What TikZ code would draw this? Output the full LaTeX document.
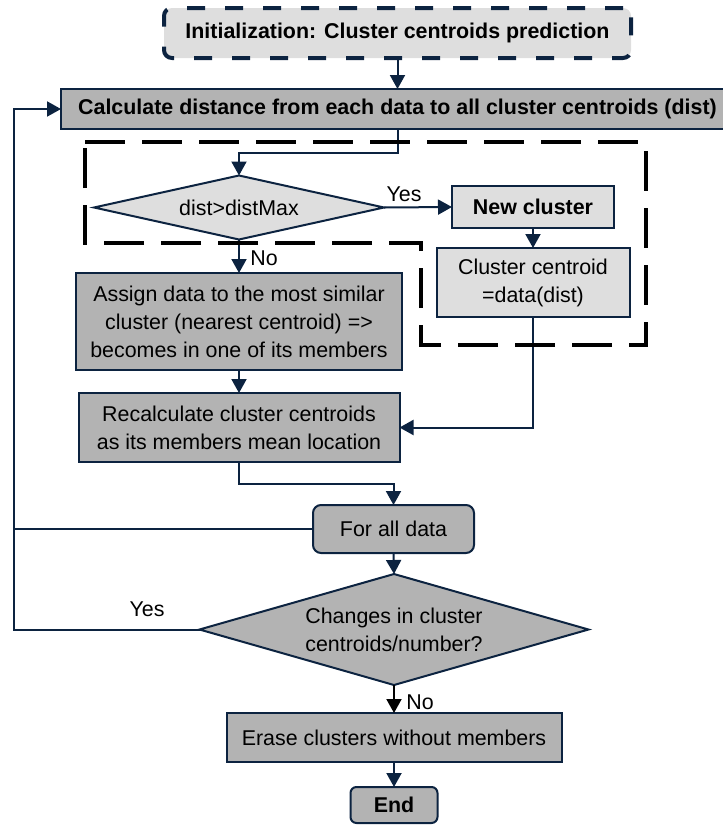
\documentclass[tikz,border=0pt]{standalone}
\usepackage{fontspec}
\setmainfont{Liberation Sans}
\usetikzlibrary{shapes.geometric,arrows.meta}
\definecolor{navy}{HTML}{0C2340}
\definecolor{lightfill}{HTML}{DEDEDE}
\definecolor{darkfill}{HTML}{B3B3B3}
\begin{document}
\begin{tikzpicture}[x=1pt,y=-1pt,
  txt/.style={font=\fontsize{21.4}{28}\selectfont},
  btxt/.style={font=\fontsize{21.4}{28}\selectfont\bfseries},
  box/.style={draw=navy, line width=2pt, inner sep=0pt, outer sep=0pt, align=center, txt},
  lightbox/.style={box, fill=lightfill},
  darkbox/.style={box, fill=darkfill},
  decision/.style={box, diamond},
  conn/.style={draw=navy, line width=2pt, -{Triangle[length=14pt,width=15pt]}},
  plainline/.style={draw=navy, line width=2pt},
  lbl/.style={txt, inner sep=0pt}]
\useasboundingbox (0,0) rectangle (723,825);

\node[lightbox, btxt, rounded corners=8pt, line width=4pt, dash pattern=on 18pt off 20pt,
      minimum width=467pt, minimum height=50pt] (init) at (397.5,33) {Initialization: Cluster centroids prediction};
\node[darkbox, btxt, minimum width=673pt, minimum height=40pt] (calc) at (397.5,109)
  {Calculate distance from each data to all cluster centroids (dist)};
\node[decision, fill=lightfill, shape aspect=4.5, minimum width=290pt, minimum height=64pt] (d1) at (239,207.5) {dist>distMax};
\node[lightbox, btxt, minimum width=162pt, minimum height=42pt] (newc) at (533,207) {New cluster};
\node[lightbox, minimum width=193pt, minimum height=69pt] (cent) at (533,282.5) {Cluster centroid\\=data(dist)};
\node[darkbox, minimum width=326pt, minimum height=97pt] (assign) at (239,321.5)
  {Assign data to the most similar\\cluster (nearest centroid) =>\\becomes in one of its members};
\node[darkbox, minimum width=321pt, minimum height=69pt] (recalc) at (239,427.5)
  {Recalculate cluster centroids\\as its members mean location};
\node[darkbox, rounded corners=8pt, minimum width=161pt, minimum height=48pt] (forall) at (393.5,529) {For all data};
\node[decision, fill=darkfill, shape aspect=3.5, minimum width=389pt, minimum height=111pt] (d2) at (394,629.5)
  {Changes in cluster\\centroids/number?};
\node[darkbox, minimum width=335pt, minimum height=49pt] (erase) at (394,737.5) {Erase clusters without members};
\node[darkbox, btxt, rounded corners=6pt, minimum width=87pt, minimum height=36pt] (end) at (394,805) {End};

\node[lbl] (yes1) at (404,194) {Yes};
\node[lbl] (no1) at (264,258) {No};
\node[lbl] (yes2) at (147,609) {Yes};
\node[lbl] (no2) at (420,702) {No};

\coordinate (lx) at (14,0);

\draw[conn] (init.south) -- (calc.north);
\draw[conn] (calc.south) -- ++(0,24) -| (d1.north);
\draw[conn] (d1.east) -- (newc.west);
\draw[conn] (newc.south) -- (cent.north);
\draw[conn] (d1.south) -- (assign.north);
\draw[conn] (assign.south) -- (recalc.north);
\draw[conn] (cent.south) |- (recalc.east);
\draw[conn] (recalc.south) -- ++(0,22) -| (forall.north);
\draw[conn] (forall.south) -- (d2.north);
\draw[conn, draw=black] (d2.south) -- (erase.north);
\draw[conn] (erase.south) -- (end.north);
\draw[conn] (d2.west) -| (lx |- calc.west) -- (calc.west);
\draw[plainline] (forall.west) -- (lx |- forall.west);

\draw[black, line width=4pt, dash pattern=on 40pt off 17pt]
  (85,142) -- (646,142) -- (646,345) -- (421,345) -- (421,243) -- (85,243) -- cycle;
\end{tikzpicture}
\end{document}
